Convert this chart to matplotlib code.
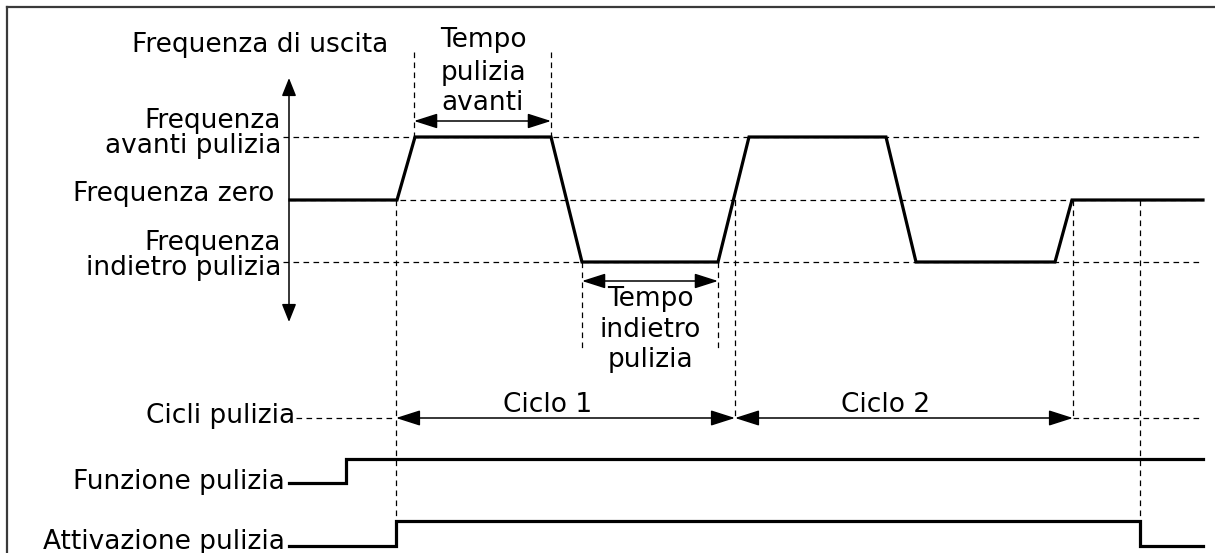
import matplotlib
matplotlib.use("Agg")
import matplotlib.pyplot as plt

# frequency profile (time in px units, level: 1 avanti, 0 zero, -1 indietro)
freq_t = [290, 397, 415, 551, 582, 718, 749, 886, 916, 1055, 1072, 1203]
freq_lvl = [0, 0, 1, 1, -1, -1, 1, 1, -1, -1, 0, 0]

# digital signals
fun_t = [289, 346, 346, 1203]
fun_s = [0, 0, 1, 1]
att_t = [289, 396, 396, 1140, 1140, 1203]
att_s = [0, 0, 1, 1, 0, 0]

# cleaning cycles
cycle_edges = [396, 735, 1073]
cycle_labels = ["Ciclo 1", "Ciclo 2"]

# row positions
Y_AV, Y_ZERO, Y_IND = 137, 200, 262
Y_CYC = 418
Y_FUN = (483, 459)
Y_ATT = (546, 521)

def fy(l):
    return Y_ZERO - (Y_ZERO - Y_AV) * l if l >= 0 else Y_ZERO + (Y_IND - Y_ZERO) * (-l)

FS = 19
fig = plt.figure(figsize=(12.15, 5.53), dpi=100)
ax = fig.add_axes([0, 0, 1, 1])
ax.set_xlim(0, 1215)
ax.set_ylim(553, 0)
ax.axis("off")

# frame
ax.plot([7, 7], [553, 7], color="#3a3a3a", lw=1.6, solid_capstyle="projecting")
ax.plot([7, 1215], [7, 7], color="#3a3a3a", lw=1.6, solid_capstyle="projecting")

dash = dict(color="black", lw=0.9, linestyle=(0, (4.5, 3.5)))
sig = dict(color="black", lw=2.3, solid_joinstyle="miter")

def arrow(x0, y0, x1, y1, hl=0.72, hw=0.23):
    ax.annotate("", xy=(x1, y1), xytext=(x0, y0),
                arrowprops=dict(arrowstyle=f"<|-|>,head_length={hl},head_width={hw}",
                                color="black", lw=1.1, shrinkA=0, shrinkB=0,
                                mutation_scale=20))

# horizontal reference lines
ax.plot([283, 1203], [Y_AV, Y_AV], **dash)
ax.plot([290, 1203], [Y_ZERO, Y_ZERO], **dash)
ax.plot([283, 1203], [Y_IND, Y_IND], **dash)
ax.plot([296, cycle_edges[0]], [Y_CYC, Y_CYC], **dash)
ax.plot([cycle_edges[-1], 1203], [Y_CYC, Y_CYC], **dash)

# vertical reference lines
ax.plot([396, 396], [Y_ZERO, Y_ATT[1]], **dash)
ax.plot([414, 414], [52, Y_AV], **dash)
ax.plot([551, 551], [52, Y_AV], **dash)
ax.plot([582, 582], [Y_IND, 348], **dash)
ax.plot([718, 718], [Y_IND, 348], **dash)
ax.plot([735, 735], [Y_ZERO, Y_CYC], **dash)
ax.plot([1073, 1073], [Y_ZERO, Y_CYC], **dash)
ax.plot([1140, 1140], [Y_ZERO, Y_ATT[1]], **dash)

# signals
ax.plot(freq_t, [fy(l) for l in freq_lvl], **sig)
ax.plot(fun_t, [Y_FUN[s] for s in fun_s], **sig)
ax.plot(att_t, [Y_ATT[s] for s in att_s], **sig)

# arrows
arrow(289, 322, 289, 78, hl=0.55, hw=0.22)
arrow(414, 121, 551, 121)
arrow(582, 281, 718, 281)
for a, b in zip(cycle_edges[:-1], cycle_edges[1:]):
    arrow(a, Y_CYC, b, Y_CYC, hl=0.75, hw=0.24)

# labels
def txt(x, y, s, ha="right"):
    ax.text(x, y, s, ha=ha, va="baseline", fontsize=FS, color="black",
            family="DejaVu Sans")

txt(260, 52, "Frequenza di uscita", ha="center")
txt(281, 128, "Frequenza")
txt(281, 153, "avanti pulizia")
txt(274, 201, "Frequenza zero")
txt(281, 250, "Frequenza")
txt(281, 275, "indietro pulizia")
txt(295, 423, "Cicli pulizia")
txt(285, 489, "Funzione pulizia")
txt(285, 549, "Attivazione pulizia")

for s, yy in zip(["Tempo", "pulizia", "avanti"], [47, 80, 110]):
    txt(483, yy, s, ha="center")
for s, yy in zip(["Tempo", "indietro", "pulizia"], [306, 337, 367]):
    txt(650, yy, s, ha="center")
for (a, b), lab in zip(zip(cycle_edges[:-1], cycle_edges[1:]), cycle_labels):
    txt((a + b) / 2 - 18, 412, lab, ha="center")

fig.savefig("out.png", dpi=100, facecolor="white")
